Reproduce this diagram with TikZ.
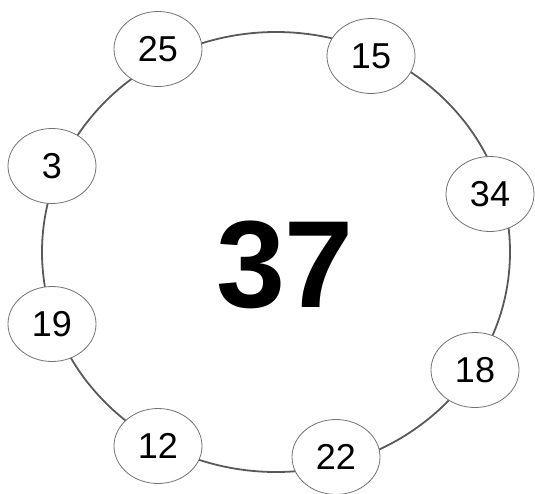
\documentclass[tikz,border=0pt]{standalone}
\usepackage{fontspec}
\setmainfont{Liberation Sans}
\usetikzlibrary{shapes.geometric}
\begin{document}
\begin{tikzpicture}[x=1pt,y=-1pt,
  num/.style={ellipse,draw=black!55,line width=0.8pt,fill=white,minimum width=88pt,minimum height=75pt,inner sep=0pt,font=\fontsize{36}{40}\selectfont},
  ring/.style={draw=black!65,line width=1.8pt}]
\useasboundingbox (0,0) rectangle (535,493);
\coordinate (c) at (276,252);
\draw[ring] (c) ellipse [x radius=234, y radius=220];
\node[num] (n25) at (158,49) {25};
\node[num] (n15) at (371,56) {15};
\node[num] (n34) at (490,194) {34};
\node[num] (n18) at (475,370) {18};
\node[num] (n22) at (336,457) {22};
\node[num] (n12) at (158,446) {12};
\node[num] (n19) at (52,324) {19};
\node[num] (n3) at (52,166) {3};
\node[font=\bfseries\fontsize{124}{130}\selectfont] (big) at (285,265) {37};
\end{tikzpicture}
\end{document}
